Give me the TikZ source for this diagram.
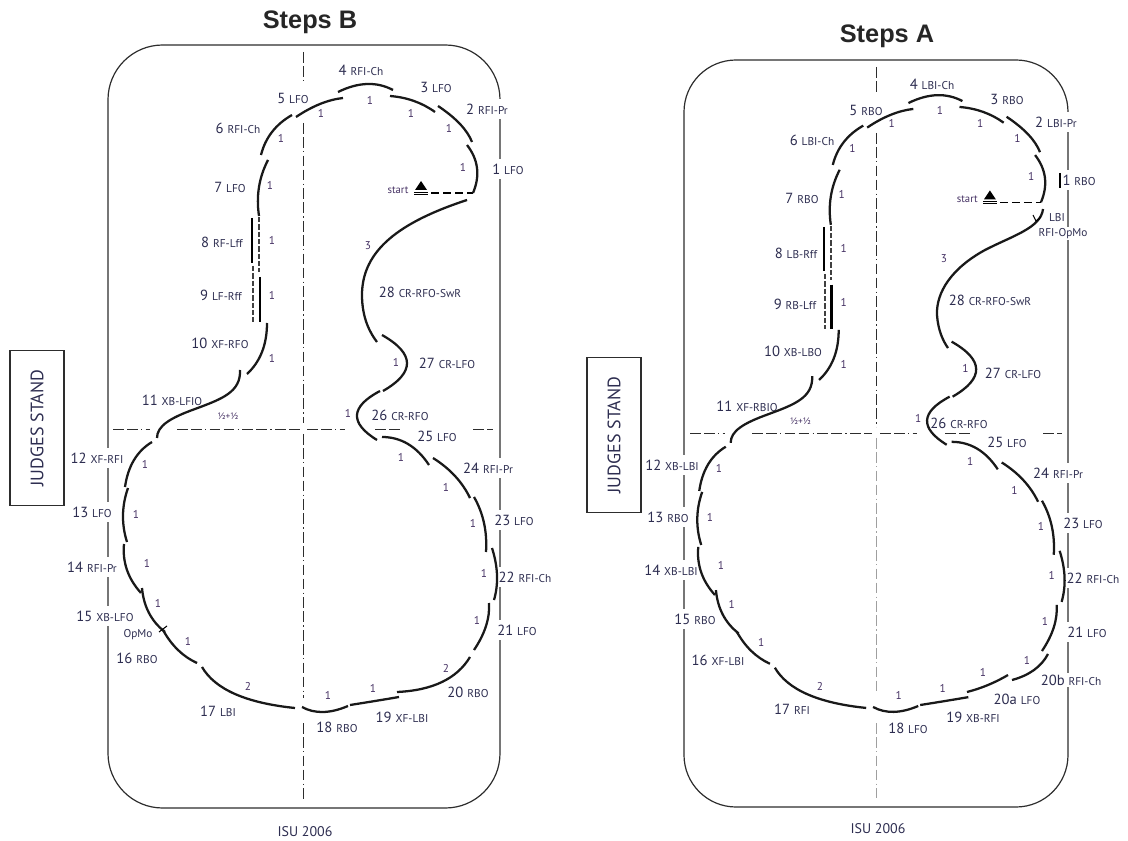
\documentclass[tikz,border=0pt]{standalone}
\usepackage{fontspec}
\usetikzlibrary{calc}
\setmainfont{PT Sans}
\newfontfamily\titlefont{Liberation Sans}
\definecolor{lbl}{RGB}{45,45,80}
\definecolor{cntc}{RGB}{70,50,100}
\definecolor{rinkc}{RGB}{45,45,45}
\newcommand\cd[1]{{\fontsize{8.5}{10}\selectfont #1}}
\newcommand\stepseg[1]{\draw[stepl] plot[smooth,tension=0.7] coordinates {#1};}
\newcommand\stepq[3]{\draw[stepl] (#1) .. controls ($1.3333*(#2)-0.3333*(#3)$) and ($1.3333*(#2)-0.3333*(#1)$) .. (#3);}
\newcommand\sharedarcs[1]{%
  % start mark
  \fill[black] (415,190) -- (427,190) -- (421,181) -- cycle;
  \draw[line width=0.5pt] (414,192.3) -- (428,192.3) (414,194.6) -- (428,194.6);
  \draw[line width=1pt,dash pattern=on 6pt off 3pt] (431,193) -- (473,193);
  \node[cnt,font=\fontsize{8}{9}\selectfont] (#1st) at (398,190) {start};
  % steps
  \stepq{473,193}{477,168}{467,145}
  \stepq{472,142}{460,124}{438,106}
  \stepq{435,112}{414,101}{390,96}
  \stepq{393,90}{367,84}{338,92}
  \stepq{343,98}{320,104}{296,117}
  \stepq{292,115}{272,132}{261,155}
  \stepq{268,160}{259,187}{259,216}
  \draw[line width=2pt] (252,218) -- (252,263);
  \draw[line width=1pt,draw=black!75,dash pattern=on 4pt off 1.5pt] (259,217) -- (259,272);
  \draw[line width=1pt,draw=black!75,dash pattern=on 4pt off 1.5pt] (253,266) -- (253,322);
  \draw[line width=2pt] (260,277) -- (260,322);
  \stepq{267,323}{262,352}{247,374}
  \draw[stepl] (240,370) .. controls (241,392) and (222,399) .. (195,409) .. controls (170,418) and (157,426) .. (157,438);
  \stepq{152,442}{134,460}{125,487}
  \stepq{128,488}{123,515}{127,542}
  \stepq{124,544}{127,570}{141,593}
  \stepq{142,588}{149,613}{165,632}
  \stepq{163,630}{178,650}{197,663}
  \stepq{202,667}{235,694}{295,708}
  \stepq{302,707}{323,712}{348,706}
  \stepq{350,705}{375,701}{399,697}
  \stepq{489,603}{486,626}{474,650}
  \stepq{492,548}{497,575}{494,600}
  \stepq{474,497}{484,523}{486,552}
  \stepq{433,458}{455,476}{470,498}
  \stepq{382,437}{408,444}{429,465}
  \stepq{380,391}{357,415}{377,440}
  \stepq{382,335}{407,363}{383,391}
  % counts
  \node[cnt] (#1c1) at (463,167) {1};
  \node[cnt] (#1c2) at (449,128) {1};
  \node[cnt] (#1c3) at (411,113) {1};
  \node[cnt] (#1c4) at (370,100) {1};
  \node[cnt] (#1c5) at (321,113) {1};
  \node[cnt] (#1c6) at (281,138) {1};
  \node[cnt] (#1c7) at (270,185) {1};
  \node[cnt] (#1c8) at (272,240) {1};
  \node[cnt] (#1c9) at (272,295) {1};
  \node[cnt] (#1c10) at (272,358) {1};
  \node[cnt,font=\fontsize{7}{8}\selectfont] (#1c11) at (228,416) {½+½};
  \node[cnt] (#1c12) at (145,464) {1};
  \node[cnt] (#1c13) at (136,514) {1};
  \node[cnt] (#1c14) at (147,563) {1};
  \node[cnt] (#1c15) at (158,603) {1};
  \node[cnt] (#1c16) at (188,641) {1};
  \node[cnt] (#1c17) at (248,686) {2};
  \node[cnt] (#1c18) at (328,695) {1};
  \node[cnt] (#1c19) at (373,688) {1};
  \node[cnt] (#1c21) at (477,620) {1};
  \node[cnt] (#1c22) at (484,573) {1};
  \node[cnt] (#1c23) at (473,523) {1};
  \node[cnt] (#1c24) at (446,487) {1};
  \node[cnt] (#1c25) at (401,457) {1};
  \node[cnt] (#1c26) at (348,413) {1};
  \node[cnt] (#1c27) at (396,362) {1};
}
\begin{document}
\begin{tikzpicture}[x=0.75pt,y=-0.75pt,
  rink/.style={draw=rinkc,line width=0.9pt},
  cline/.style={draw=rinkc,line width=0.7pt,dash pattern=on 8pt off 2.5pt on 8pt off 2.5pt on 1pt off 2.5pt},
  stepl/.style={draw=black!90,line width=1.7pt},
  lab/.style={fill=white,inner xsep=1.5pt,inner ysep=3.5pt,text=lbl,font=\fontsize{11}{12}\selectfont},
  cnt/.style={inner sep=0pt,text=cntc,font=\fontsize{8.5}{10}\selectfont},
  judge/.style={draw=rinkc,line width=0.9pt,minimum width=54*0.75pt,minimum height=155*0.75pt,inner sep=0pt},
  ttl/.style={font=\titlefont\bfseries\fontsize{19}{22}\selectfont,text=black!85},
  isu/.style={font=\fontsize{10.5}{12}\selectfont,text=lbl}]
\useasboundingbox (0,0) rectangle (1128,841);
% rinks
\draw[rink,rounded corners=41pt] (108,45) rectangle (500,808);
\draw[rink,rounded corners=39pt] (684,60) rectangle (1068,807);
% judges stands
\node[judge] (jB) at (37,428) {};
\node[rotate=90,text=lbl,font=\fontsize{13.5}{15}\selectfont] (jBt) at (jB) {JUDGES STAND};
\node[judge] (jA) at (614,435) {};
\node[rotate=90,text=lbl,font=\fontsize{13.5}{15}\selectfont] (jAt) at (jA) {JUDGES STAND};
% center lines B
\draw[cline] (303,52) -- (303,82);
\draw[cline] (303,123) -- (303,423);
\draw[cline] (303,434) -- (303,698);
\draw[cline] (303,723) -- (303,800);
\draw[cline] (113,429) -- (150,429);
\draw[cline] (177,429) -- (300,429);
\draw[cline] (307,429) -- (345,429);
\draw[cline] (375,429) -- (400,429);
\draw[cline] (473,429) -- (493,429);
% center lines A
\draw[cline] (876,67) -- (876,93);
\draw[cline] (876,133) -- (876,427);
\draw[cline,draw=gray!75] (876,438) -- (876,693);
\draw[cline,draw=gray!75] (876,723) -- (876,798);
\draw[cline] (690,433) -- (725,433);
\draw[cline] (752,433) -- (872,433);
\draw[cline] (880,433) -- (917,433);
\draw[cline] (945,433) -- (970,433);
\draw[cline] (1043,433) -- (1062,433);
% labels B
\node[lab] (B1) at (508,169) {1 \cd{LFO}};
\node[lab] (B2) at (487,109) {2 \cd{RFI-Pr}};
\node[lab] (B3) at (436,87) {3 \cd{LFO}};
\node[lab] (B4) at (361,70) {4 \cd{RFI-Ch}};
\node[lab] (B5) at (293,98) {5 \cd{LFO}};
\node[lab] (B6) at (238,128) {6 \cd{RFI-Ch}};
\node[lab] (B7) at (230,187) {7 \cd{LFO}};
\node[lab] (B8) at (222,242) {8 \cd{RF-Lff}};
\node[lab] (B9) at (221,295) {9 \cd{LF-Rff}};
\node[lab] (B10) at (220,343) {10 \cd{XF-RFO}};
\node[lab] (B11) at (172,400) {11 \cd{XB-LFIO}};
\node[lab] (B12) at (97,458) {12 \cd{XF-RFI}};
\node[lab] (B13) at (92,512) {13 \cd{LFO}};
\node[lab] (B14) at (92,567) {14 \cd{RFI-Pr}};
\node[lab] (B15) at (105,616) {15 \cd{XB-LFO}};
\node[lab,inner ysep=1pt] (Bop) at (138,635) {\cd{OpMo}};
\node[lab,inner ysep=1pt] (B16) at (137,658) {16 \cd{RBO}};
\node[lab] (B17) at (218,711) {17 \cd{LBI}};
\node[lab] (B18) at (337,727) {18 \cd{RBO}};
\node[lab] (B19) at (402,717) {19 \cd{XF-LBI}};
\node[lab] (B20) at (468,692) {20 \cd{RBO}};
\node[lab] (B21) at (517,630) {21 \cd{LFO}};
\node[lab] (B22) at (525,577) {22 \cd{RFI-Ch}};
\node[lab] (B23) at (514,520) {23 \cd{LFO}};
\node[lab] (B24) at (488,468) {24 \cd{RFI-Pr}};
\node[lab] (B25) at (437,436) {25 \cd{LFO}};
\node[lab] (B26) at (400,415) {26 \cd{CR-RFO}};
\node[lab] (B27) at (447,363) {27 \cd{CR-LFO}};
\node[lab] (B28) at (420,292) {28 \cd{CR-RFO-SwR}};
% labels A
\node[lab] (A1) at (1079,180) {1 \cd{RBO}};
\node[lab] (A2) at (1056,122) {2 \cd{LBI-Pr}};
\node[lab] (A3) at (1007,99) {3 \cd{RBO}};
\node[lab] (A4) at (932,84) {4 \cd{LBI-Ch}};
\node[lab] (A5) at (866,110) {5 \cd{RBO}};
\node[lab] (A6) at (812,140) {6 \cd{LBI-Ch}};
\node[lab] (A7) at (802,198) {7 \cd{RBO}};
\node[lab] (A8) at (796,253) {8 \cd{LB-Rff}};
\node[lab] (A9) at (795,304) {9 \cd{RB-Lff}};
\node[lab] (A10) at (793,351) {10 \cd{XB-LBO}};
\node[lab] (A11) at (747,406) {11 \cd{XF-RBIO}};
\node[lab] (A12) at (672,465) {12 \cd{XB-LBI}};
\node[lab] (A13) at (668,517) {13 \cd{RBO}};
\node[lab] (A14) at (671,570) {14 \cd{XB-LBI}};
\node[lab] (A15) at (695,619) {15 \cd{RBO}};
\node[lab] (A16) at (718,660) {16 \cd{XF-LBI}};
\node[lab] (A17) at (792,709) {17 \cd{RFI}};
\node[lab] (A18) at (908,728) {18 \cd{LFO}};
\node[lab] (A19) at (973,717) {19 \cd{XB-RFI}};
\node[lab,inner ysep=1pt] (A20a) at (1017,699) {20a \cd{LFO}};
\node[lab,inner ysep=1pt] (A20b) at (1071,680) {20b \cd{RFI-Ch}};
\node[lab] (A21) at (1087,632) {21 \cd{LFO}};
\node[lab] (A22) at (1093,578) {22 \cd{RFI-Ch}};
\node[lab] (A23) at (1083,523) {23 \cd{LFO}};
\node[lab] (A24) at (1058,473) {24 \cd{RFI-Pr}};
\node[lab] (A25) at (1007,442) {25 \cd{LFO}};
\node[lab] (A26) at (959,423) {26 \cd{CR-RFO}};
\node[lab] (A27) at (1013,373) {27 \cd{CR-LFO}};
\node[lab] (A28) at (990,300) {28 \cd{CR-RFO-SwR}};
\node[lab,inner ysep=1pt] (ALBI) at (1057,218) {\cd{LBI}};
\node[lab,inner ysep=1pt] (AOp) at (1063,234) {\cd{RFI-OpMo}};
% paths B
\sharedarcs{B}
\stepq{470,657}{442,682}{397,692}
\draw[stepl] (467,200) .. controls (400,222) and (362,250) .. (362,295) .. controls (362,318) and (370,333) .. (377,342);
\node[cnt] (Bc20) at (446,668) {2};
\node[cnt] (Bc28) at (368,246) {3};
\draw[line width=0.8pt] (159,632) -- (167,626);
% paths A
\begin{scope}[shift={(576.5,12.7)},scale=0.982]
\sharedarcs{A}
\end{scope}
\stepq{967,692}{988,685}{1008,675}
\stepq{1012,680}{1034,670}{1048,654}
\draw[stepl] (1043,209) .. controls (1041,228) and (1012,236) .. (985,250) .. controls (952,268) and (936,292) .. (937,315) .. controls (938,330) and (943,341) .. (948,348);
\node[cnt] (Ac20a) at (983,672) {1};
\node[cnt] (Ac20b) at (1027,660) {1};
\node[cnt] (Ac28) at (944,259) {3};
\draw[line width=0.8pt] (1033,215) -- (1036,221) -- (1041,217);
\draw[line width=1.3pt] (1060,173) -- (1060,188);
% titles
\node[ttl] (tB) at (310,22) {Steps B};
\node[ttl] (tA) at (887,36) {Steps A};
\node[isu] (iB) at (305,832) {ISU 2006};
\node[isu] (iA) at (878,829) {ISU 2006};
\end{tikzpicture}
\end{document}
